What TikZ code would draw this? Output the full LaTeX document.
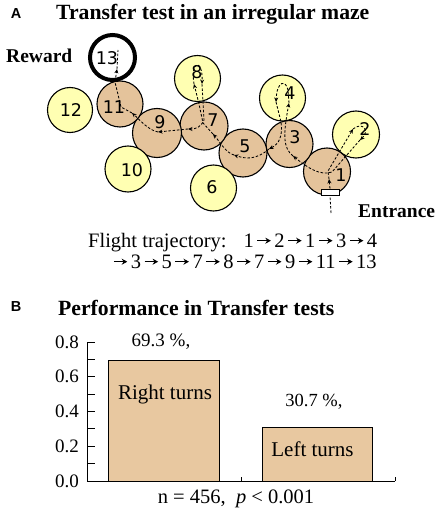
\documentclass[tikz,border=0pt]{standalone}
\usepackage{fontspec}
\setmainfont{Liberation Serif}
\newfontfamily\numfont{DejaVu Sans}
\newfontfamily\panelfont{Liberation Sans}
\usetikzlibrary{arrows.meta}
\definecolor{tanc}{RGB}{228,195,155}
\definecolor{yelc}{RGB}{255,255,178}
\definecolor{barc}{RGB}{232,200,160}
\newcommand{\tra}{\hspace{3pt}\tikz[baseline=-6.3pt]\draw[line width=1.1pt,-{Stealth[length=5.5pt,width=6pt]}](0pt,0pt)--(13.5pt,0pt);\hspace{3pt}}
\newcommand{\fs}[1]{\fontsize{#1}{#1}\selectfont}
\begin{document}
\begin{tikzpicture}[x=1pt,y=-1pt,
  circ/.style={circle,draw,line width=1.1pt,inner sep=0pt},
  tanball/.style={circ,fill=tanc},
  yelball/.style={circ,fill=yelc},
  num/.style={inner sep=0pt,font=\numfont\fs{17.5}},
  traj/.style={dash pattern=on 2.5pt off 1.8pt,line width=0.85pt},
  tip/.style={-{Stealth[length=4.5pt,width=4pt]}},
  panel/.style={inner sep=0pt,font=\panelfont\bfseries\fs{14.5}},
  lbl/.style={inner sep=0pt,font=\fs{19}}]
\useasboundingbox (0,0) rectangle (443,513);
\fill[white] (0,0) rectangle (443,513);
% Panel A titles
\node[panel] (pa) at (16,14) {A};
\node[inner sep=0pt,anchor=base west,font=\bfseries\fs{21.7}] (ta) at (56,19.5) {Transfer test in an irregular maze};
\node[inner sep=0pt,anchor=base west,font=\bfseries\fs{19.5}] (rw) at (6,63) {Reward};
\node[inner sep=0pt,anchor=base west,font=\bfseries\fs{19.5}] (en) at (358,217) {Entrance};
% circles
\node[tanball,minimum size=47pt] (c1) at (327,171.5) {};
\node[yelball,minimum size=47pt] (c2) at (356,134.5) {};
\node[tanball,minimum size=47pt] (c3) at (289.5,144) {};
\node[yelball,minimum size=46pt] (c4) at (282.5,98) {};
\node[tanball,minimum size=48pt] (c5) at (243,153) {};
\node[yelball,minimum size=46pt] (c6) at (213.5,188) {};
\node[tanball,minimum size=48pt] (c7) at (204,126) {};
\node[yelball,minimum size=46pt] (c8) at (197.5,78.5) {};
\node[tanball,minimum size=49pt] (c9) at (157,133) {};
\node[yelball,minimum size=46pt] (c10) at (128,169) {};
\node[tanball,minimum size=46pt] (c11) at (120,104) {};
\node[yelball,minimum size=45pt] (c12) at (70,110) {};
\node[circ,fill=white,line width=4pt,minimum size=45pt] (c13) at (112.5,57.5) {};
% numbers
\node[num] (n1) at (341,175) {1};
\node[num] (n2) at (365,129) {2};
\node[num] (n3) at (295,137) {3};
\node[num] (n4) at (290,93) {4};
\node[num] (n5) at (245,146) {5};
\node[num] (n6) at (212,187) {6};
\node[num] (n7) at (213,120) {7};
\node[num] (n8) at (197,72) {8};
\node[num] (n9) at (160,122) {9};
\node[num] (n10) at (132,170) {10};
\node[num] (n11) at (114,107) {11};
\node[num] (n12) at (71,110) {12};
\node[num] (n13) at (107,58) {13};
% entrance gate
\node[draw,fill=white,line width=0.8pt,inner sep=0pt,minimum width=18pt,minimum height=6pt] (gate) at (330,192) {};
% trajectory coordinates
\coordinate (e0) at (331,213);
\coordinate (a1) at (329,179);
\coordinate (k1) at (328,171);
\coordinate (a2) at (353,129);
\coordinate (a3) at (360,140);
\coordinate (k2) at (332,172);
\coordinate (a4) at (293,156);
\coordinate (a5) at (289,103);
\coordinate (k3) at (288,90);
\coordinate (a6) at (276,102);
\coordinate (k4) at (281,122);
\coordinate (a7) at (269,149);
\coordinate (a8) at (234,155);
\coordinate (a9) at (213,134);
\coordinate (k5) at (203,123);
\coordinate (k6) at (199,104);
\coordinate (a10) at (194,84);
\coordinate (a11) at (202,84);
\coordinate (k9) at (204,120);
\coordinate (a12) at (188,129);
\coordinate (a13) at (158,132);
\coordinate (a14) at (132,113);
\coordinate (k10) at (121,107);
\coordinate (k11) at (115,82);
\coordinate (a15) at (117,69);
\coordinate (e1) at (118,50);
% trajectory
\draw[traj] (e0) -- (gate.south);
\draw[traj,tip] (gate.north) -- (a1);
\draw[traj,tip] (a1) -- (k1) -- (a2);
\draw[traj,tip] (a2) .. controls (363,121) and (370,131) .. (a3);
\draw[traj,tip] (a3) -- (k2) .. controls (320,176) and (308,168) .. (a4);
\draw[traj,tip] (a4) .. controls (283,148) and (283,135) .. (a5);
\draw[traj,tip] (a5) -- (k3) .. controls (286,80) and (277,80) .. (a6);
\draw[traj,tip] (a6) -- (k4) .. controls (283,136) and (279,144) .. (a7);
\draw[traj,tip] (a7) .. controls (256,160) and (246,159) .. (a8);
\draw[traj,tip] (a8) .. controls (226,153) and (220,142) .. (a9);
\draw[traj,tip] (a9) -- (k5) -- (k6) -- (a10);
\draw[traj,tip] (a10) .. controls (190,60) and (203,58) .. (a11);
\draw[traj,tip] (a11) -- (k9) .. controls (201,127) and (196,129) .. (a12);
\draw[traj,tip] (a12) -- (a13);
\draw[traj,tip] (a13) .. controls (148,130) and (140,120) .. (a14);
\draw[traj,tip] (a14) -- (k10) -- (k11) -- (a15);
\draw[traj] (a15) -- (e1);
% flight trajectory text
\node[inner sep=0pt,anchor=base west,font=\fs{20.5}] (fl1) at (88,247) {Flight trajectory:\hspace{17pt}1\tra2\tra1\tra3\tra4};
\node[inner sep=0pt,anchor=base west,font=\fs{20.5}] (fl2) at (110,268) {\tra3\tra5\tra7\tra8\tra7\tra9\tra11\tra13};
% Panel B
\node[panel] (pb) at (16,307) {B};
\node[inner sep=0pt,anchor=base west,font=\bfseries\fs{21.7}] (tb) at (58,315) {Performance in Transfer tests};
% axes
\coordinate (o) at (87,481);
\coordinate (ytop) at (87,342);
\coordinate (xend) at (395,481);
\draw[line width=1pt] (ytop) -- (o) -- (xend);
\foreach \v in {1,...,8} {
  \draw[line width=1pt] (87,{481-\v*17.375}) -- (95,{481-\v*17.375});
}
\draw[line width=1pt] (241,481) -- (241,477);
\draw[line width=1pt] (xend) -- (395,477);
\foreach \v/\t in {0/0.0,2/0.2,4/0.4,6/0.6,8/0.8} {
  \node[lbl,anchor=east] at (79,{481-\v*17.375}) {\t};
}
% bars
\draw[line width=1pt,fill=barc] (108,481) rectangle (219,360.6);
\draw[line width=1pt,fill=barc] (262,481) rectangle (372,427.7);
\node[inner sep=0pt,font=\fs{19}] (v1) at (161,342) {69.3 \%,};
\node[inner sep=0pt,font=\fs{18.5}] (v2) at (314,402) {30.7 \%,};
\node[inner sep=0pt,font=\fs{21}] (r1) at (165,394) {Right turns};
\node[inner sep=0pt,font=\fs{21}] (l1) at (312.5,449) {Left turns};
\node[inner sep=0pt,font=\fs{20.5}] (st) at (236,499) {n = 456,\ \ \textit{p} < 0.001};
\end{tikzpicture}
\end{document}
